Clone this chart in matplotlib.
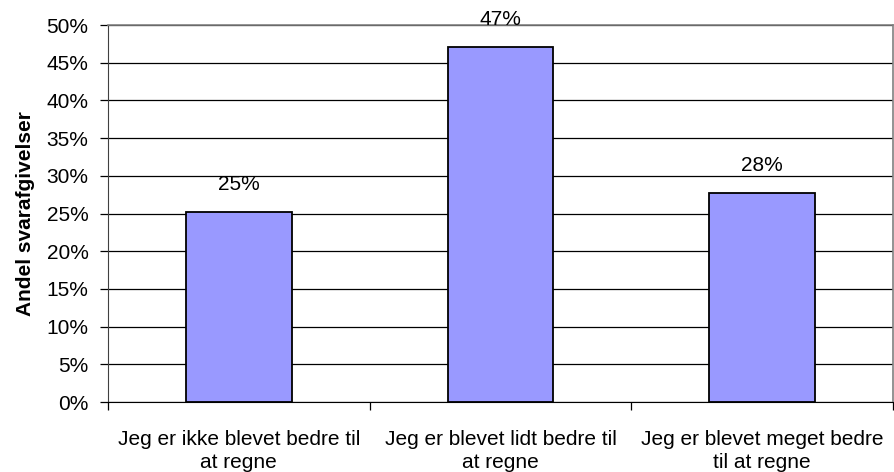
import matplotlib
matplotlib.use('Agg')
import matplotlib.pyplot as plt
from matplotlib.ticker import PercentFormatter

plt.rcParams['font.family'] = ['Liberation Sans', 'DejaVu Sans']

# data
categories = ['Jeg er ikke blevet bedre til\nat regne',
              'Jeg er blevet lidt bedre til\nat regne',
              'Jeg er blevet meget bedre\ntil at regne']
shares = [25.2, 47.1, 27.7]
share_labels = ['25%', '47%', '28%']
yticks = list(range(0, 55, 5))

fig = plt.figure(figsize=(8.94, 4.72), dpi=100)
ax = fig.add_axes([0.1208, 0.1483, 0.8781, 0.7987])

xs = list(range(len(categories)))
ax.set_axisbelow(True)
ax.bar(xs, shares, width=0.405, color='#9999FF', edgecolor='black', linewidth=1.3, zorder=3)

for x, v, lab in zip(xs, shares, share_labels):
    ax.annotate(lab, (x, v), xytext=(0, 13), textcoords='offset points',
                ha='center', va='bottom', fontsize=15, annotation_clip=False)

ax.set_xlim(-0.5, 2.5)
ax.set_ylim(0, 50)
ax.set_yticks(yticks)
ax.yaxis.set_major_formatter(PercentFormatter(decimals=0))
ax.grid(axis='y', color='black', linewidth=0.9)

ax.set_xticks(xs)
ax.set_xticklabels(categories, fontsize=15, linespacing=1.25)
ax.set_xticks([-0.5, 0.5, 1.5, 2.5], minor=True)
ax.tick_params(axis='x', which='major', length=0, pad=20)
ax.tick_params(axis='x', which='minor', length=6, width=0.9, direction='out')
ax.tick_params(axis='y', length=6, width=0.9, pad=8, labelsize=15)

ax.set_ylabel('Andel svarafgivelser', fontsize=15, fontweight='bold', labelpad=8)

for s in ['top', 'right']:
    ax.spines[s].set_color('#808080')
    ax.spines[s].set_linewidth(1.2)
ax.spines['left'].set_color('#404040')
ax.spines['bottom'].set_color('black')

fig.savefig('out.png', dpi=100)
